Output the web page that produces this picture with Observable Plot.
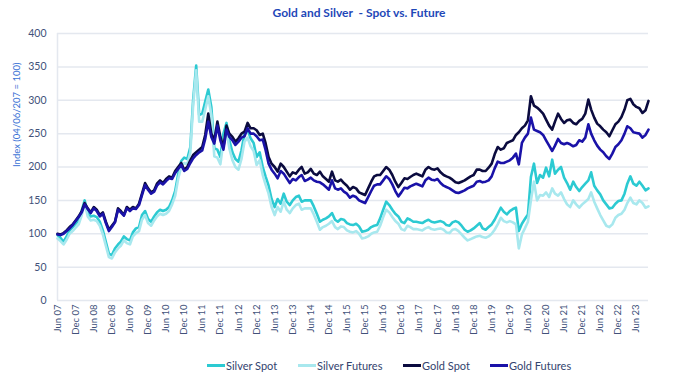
<!DOCTYPE html>
<html><head><meta charset="utf-8">
<script src="https://cdn.jsdelivr.net/npm/d3@7"></script>
<script src="https://cdn.jsdelivr.net/npm/@observablehq/plot@0.6"></script>
<style>
body{margin:0;background:#fff;width:700px;height:379px;overflow:hidden;position:relative;font-family:Lato,"Open Sans",sans-serif}
#title{position:absolute;left:0;top:5px;width:718px;text-align:center;white-space:pre;font-weight:bold;font-size:12px;color:#1f48b8;font-family:Lato,sans-serif}
#chart{position:absolute;left:0;top:24px}
#legend{position:absolute;left:0;top:359px;width:700px;height:18px}
.item{position:absolute;top:0;display:flex;align-items:center;font-size:11px;color:#33446e;white-space:nowrap}
.sw{width:18px;height:3px;margin-right:1px}
</style></head><body>
<div id="title">Gold and Silver  - Spot vs. Future</div>
<div id="chart"></div>
<div id="legend"></div>
<script>
const seriesNames = ["Silver Spot","Silver Futures","Gold Spot","Gold Futures"];
const seriesColors = ["#2ccad2","#a8e8ee","#0b0b3f","#1a12a8"];
const yLabel = "Index (04/06/207 = 100)";
const yTicks = [0,50,100,150,200,250,300,350,400];
const tickLabels = ["Jun 07","Dec 07","Jun 08","Dec 08","Jun 09","Dec 09","Jun 10","Dec 10","Jun 11","Dec 11","Jun 12","Dec 12","Jun 13","Dec 13","Jun 14","Dec 14","Jun 15","Dec 15","Jun 16","Dec 16","Jun 17","Dec 17","Jun 18","Dec 18","Jun 19","Dec 19","Jun 20","Dec 20","Jun 21","Dec 21","Jun 22","Dec 22","Jun 23"];
// monthly values, Jun 2007 .. Oct 2023
const silverSpot = [98,94,88,96,105,110,115,120,135,150,132,126,127,125,118,105,88,70,68,78,84,88,96,92,90,102,108,110,128,134,122,118,126,132,136,134,136,140,150,164,189,209,214,212,230,300,352,278,
280,298,316,290,228,226,215,250,266,240,222,212,208,225,250,256,243,236,215,222,200,186,172,152,140,152,145,160,148,143,150,155,157,148,150,150,150,141,130,118,
121,123,126,131,121,118,122,121,116,114,113,115,111,103,104,106,110,112,113,123,136,148,143,136,130,126,118,116,123,121,118,118,117,116,119,121,118,117,118,119,117,113,112,117,119,117,112,106,103,105,108,112,116,
108,106,110,114,121,130,139,133,129,134,137,139,104,115,122,129,185,205,176,188,184,199,186,211,190,196,200,184,176,166,178,170,164,170,175,180,192,172,165,159,150,144,138,139,145,149,150,160,175,186,175,172,178,172,165,168];
const silverFutures = [93,89,84,91,100,104,109,114,128,146,126,120,121,119,112,99,82,65,63,72,78,82,90,86,84,96,101,104,121,128,116,112,120,126,130,128,130,134,144,157,182,201,206,204,222,292,345,268,
268,286,306,278,216,214,204,238,254,228,210,200,196,212,238,244,231,224,203,210,188,174,160,140,128,140,133,148,136,131,138,143,145,136,138,138,138,129,118,106,
110,112,115,119,110,107,111,110,105,103,102,104,100,93,94,96,100,102,103,112,125,136,132,125,119,115,107,105,112,110,107,107,106,105,108,110,107,106,107,108,106,102,101,106,107,104,99,94,90,92,94,96,97,
95,94,96,100,106,114,124,119,117,119,117,114,78,99,108,118,150,178,150,158,157,162,155,168,160,157,162,152,144,140,150,144,139,144,148,152,162,148,138,128,120,112,110,114,124,128,130,136,146,154,146,144,150,146,139,141];
const goldSpot = [100,99,101,105,110,114,120,126,134,146,138,132,140,136,128,132,118,106,112,118,138,134,128,140,136,140,138,145,160,176,168,162,165,175,180,176,182,186,184,194,200,206,196,200,210,218,222,226,
230,248,280,250,240,268,245,230,262,250,245,238,243,250,253,266,258,258,255,248,250,236,215,205,200,193,205,200,193,186,192,190,196,200,190,192,197,190,188,193,
186,182,178,193,180,178,181,176,172,166,170,168,162,160,158,168,178,186,188,188,194,200,196,188,178,170,176,183,182,185,188,190,188,186,196,200,197,196,198,192,188,186,184,181,177,176,178,180,183,186,188,196,196,
194,194,199,205,219,230,226,228,236,238,240,248,252,258,262,270,306,292,289,285,280,271,262,256,268,280,272,266,270,271,266,264,269,272,280,301,286,274,265,261,256,252,246,255,264,268,275,286,300,302,294,290,288,281,285,299];
const goldFutures = [99,98,100,104,108,113,119,125,132,144,137,131,138,134,126,130,116,104,110,117,136,132,127,138,134,138,137,143,158,173,166,160,163,172,177,174,179,183,182,191,197,203,194,197,206,213,218,222,
225,242,268,245,235,262,240,226,256,245,240,233,238,244,246,258,250,250,246,240,241,226,205,196,190,183,194,190,183,176,182,180,185,188,179,181,184,180,178,177,
174,170,166,180,168,166,168,163,160,154,157,155,150,148,146,155,164,172,174,174,180,186,182,174,164,156,162,169,168,171,173,175,173,171,180,184,181,180,182,176,172,170,168,165,162,161,163,165,168,170,172,178,179,
177,178,180,186,198,208,206,206,208,210,214,220,204,236,244,250,274,256,254,252,248,240,232,224,232,242,236,234,236,234,231,233,240,238,244,264,250,240,232,226,222,216,212,220,230,234,240,250,261,258,252,251,250,244,248,256];

const allSeries = [silverSpot, silverFutures, goldSpot, goldFutures];
const monthDate = m => new Date(Date.UTC(2007, 5 + m, 1));
const data = [];
allSeries.forEach((arr, i) => arr.forEach((v, m) => data.push({date: monthDate(m), value: v, series: seriesNames[i]})));
const first = monthDate(0), last = monthDate(silverSpot.length - 1);
const tickDates = tickLabels.map((_, i) => monthDate(6 * i));
const labelOf = new Map(tickDates.map((d, i) => [+d, tickLabels[i]]));

const chart = Plot.plot({
  width: 700, height: 320,
  marginLeft: 57, marginRight: 52, marginTop: 9, marginBottom: 44,
  x: {type: "utc", domain: [first, last]},
  y: {domain: [0, 400]},
  color: {domain: seriesNames, range: seriesColors},
  style: {fontFamily: "Lato, 'Open Sans', sans-serif", fontSize: "10px", color: "#42527a", background: "transparent"},
  marks: [
    Plot.gridY(yTicks, {stroke: "#e4e8ef", strokeOpacity: 1, strokeWidth: 1.5}),
    Plot.ruleX([first], {stroke: "#e4e8ef", strokeWidth: 1.5}),
    Plot.axisY(yTicks, {tickSize: 0, tickPadding: 11, label: null, fontSize: 10.5}),
    Plot.axisX(tickDates, {tickSize: 0, tickPadding: 4, tickRotate: -90, label: null, tickFormat: d => labelOf.get(+d), fontSize: 9.5}),
    Plot.text([yLabel], {frameAnchor: "left", rotate: -90, dx: -41, fill: "#3d74d6", fontSize: 9.5}),
    Plot.lineY(data, {x: "date", y: "value", z: "series", stroke: "series", strokeWidth: 2.6})
  ]
});
document.getElementById("chart").appendChild(chart);

const legendLefts = [207, 298, 403, 490];
const legend = document.getElementById("legend");
seriesNames.forEach((name, i) => {
  const it = document.createElement("div");
  it.className = "item";
  it.style.left = legendLefts[i] + "px";
  const sw = document.createElement("span");
  sw.className = "sw";
  sw.style.background = seriesColors[i];
  const tx = document.createElement("span");
  tx.textContent = name;
  it.appendChild(sw); it.appendChild(tx);
  legend.appendChild(it);
});
</script>
</body></html>
